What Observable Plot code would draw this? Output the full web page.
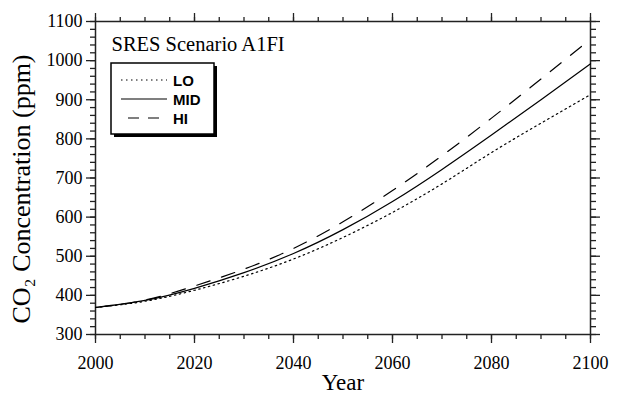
<!DOCTYPE html>
<html>
<head>
<meta charset="utf-8">
<script src="https://cdn.jsdelivr.net/npm/d3@7"></script>
<script src="https://cdn.jsdelivr.net/npm/@observablehq/plot@0.6"></script>
<style>
  html, body { margin: 0; padding: 0; background: #fff; }
  #chart { width: 618px; height: 394px; }
</style>
</head>
<body>
<div id="chart"></div>
<script>
// Data (CO2 concentration, ppm, SRES A1FI)
const years = [2000, 2010, 2020, 2030, 2040, 2050, 2060, 2070, 2080, 2090, 2100];
const lo  = [369, 385, 413, 449, 493, 548, 612, 685, 765, 840, 913];
const mid = [369, 387, 418, 458, 507, 568, 640, 722, 810, 900, 992];
const hi  = [369, 388, 424, 467, 520, 588, 668, 757, 853, 953, 1055];

const xMajor = [2000, 2020, 2040, 2060, 2080, 2100];
const xMinor = d3.range(2000, 2101, 5);
const yMajor = [300, 400, 500, 600, 700, 800, 900, 1000, 1100];
const yMinor = d3.range(300, 1101, 20);

const seriesNames = ["LO", "MID", "HI"];
const seriesDash = {LO: "1.5,3.5", MID: null, HI: "14,12"};

const rows = years.map((yr, i) => ({year: yr, LO: lo[i], MID: mid[i], HI: hi[i]}));

const tickStroke = {stroke: "#222", strokeWidth: 1.3};
const noText = () => "";

const chart = Plot.plot({
  width: 618,
  height: 394,
  marginLeft: 95,
  marginRight: 28,
  marginTop: 21,
  marginBottom: 60,
  x: {domain: [2000, 2100]},
  y: {domain: [300, 1100]},
  style: {fontFamily: "'Liberation Serif', 'Times New Roman', serif", fontSize: "18px", color: "#000", background: "#fff"},
  marks: [
    Plot.axisX({anchor: "bottom", ticks: xMinor, tickSize: 5, tickFormat: noText, label: null, ...tickStroke}),
    Plot.axisX({anchor: "bottom", ticks: xMajor, tickSize: 9, tickPadding: 13, tickFormat: d => String(d), label: null, fontSize: 18, ...tickStroke}),
    Plot.axisX({anchor: "top", ticks: xMinor, tickSize: 5, tickFormat: noText, label: null, ...tickStroke}),
    Plot.axisX({anchor: "top", ticks: xMajor, tickSize: 9, tickFormat: noText, label: null, ...tickStroke}),
    Plot.axisY({anchor: "left", ticks: yMinor, tickSize: 5, tickFormat: noText, label: null, ...tickStroke}),
    Plot.axisY({anchor: "left", ticks: yMajor, tickSize: 9, tickPadding: 4, tickFormat: d => String(d), label: null, fontSize: 18, ...tickStroke}),
    Plot.axisY({anchor: "right", ticks: yMinor, tickSize: 5, tickFormat: noText, label: null, ...tickStroke}),
    Plot.axisY({anchor: "right", ticks: yMajor, tickSize: 9, tickFormat: noText, label: null, ...tickStroke}),
    Plot.frame({stroke: "#222", strokeWidth: 1.5}),
    ...seriesNames.map(name => Plot.line(rows, {
      x: "year", y: name, curve: "natural",
      stroke: "#000", strokeWidth: 1.2,
      strokeDasharray: seriesDash[name]
    })),
    Plot.text(["Year"], {frameAnchor: "bottom", dy: 55, fontSize: 23}),
    Plot.text(["CO\u2082 Concentration (ppm)"], {frameAnchor: "left", textAnchor: "middle", dx: -74, dy: 11, rotate: -90, fontSize: 26}),
    Plot.text(["SRES Scenario A1FI"], {frameAnchor: "top-left", textAnchor: "start", lineAnchor: "middle", dx: 16, dy: 23, fontSize: 20.5})
  ]
});

document.getElementById("chart").appendChild(chart);

// Legend box with drop shadow, drawn into the same SVG
const svg = d3.select(chart);
const lg = svg.append("g").attr("class", "legend");
const bx = 111, by = 63, bw = 103, bh = 71;
lg.append("rect").attr("x", bx + 3).attr("y", by + 3).attr("width", bw).attr("height", bh).attr("fill", "#000");
lg.append("rect").attr("x", bx).attr("y", by).attr("width", bw).attr("height", bh)
  .attr("fill", "#fff").attr("stroke", "#000").attr("stroke-width", 1.5);
const legendDash = {LO: "1.5,3.5", MID: null, HI: "11,9"};
seriesNames.forEach((name, i) => {
  const yy = by + 17 + i * 19;
  lg.append("line").attr("x1", name === "HI" ? 128 : 121).attr("x2", 167).attr("y1", yy).attr("y2", yy)
    .attr("stroke", "#000").attr("stroke-width", 1.2)
    .attr("stroke-dasharray", legendDash[name]);
  lg.append("text").attr("x", 173).attr("y", yy + 5.5).text(name)
    .attr("text-anchor", "start")
    .attr("font-family", "'Liberation Sans', Arial, sans-serif").attr("font-weight", "bold")
    .attr("font-size", 15).attr("fill", "#000");
});
</script>
</body>
</html>
